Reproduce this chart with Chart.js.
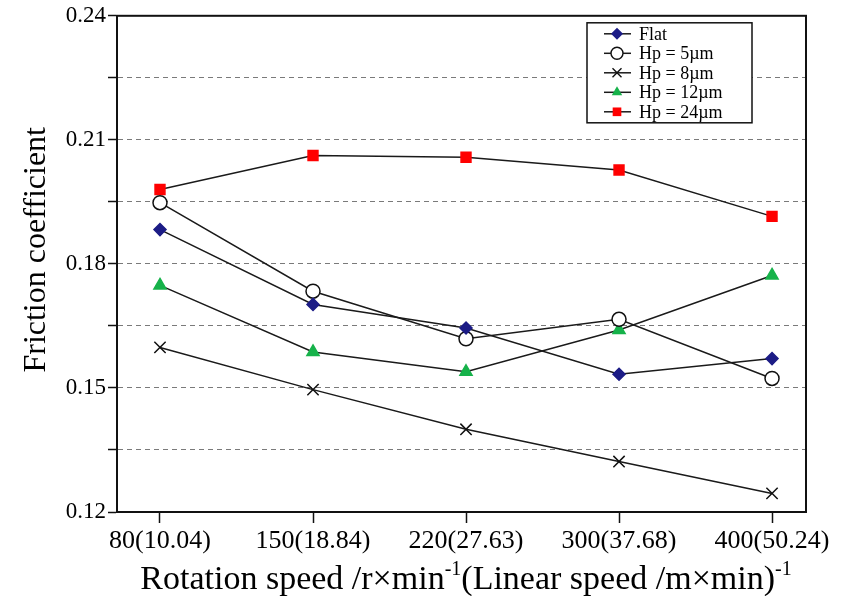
<!DOCTYPE html>
<html>
<head>
<meta charset="utf-8">
<script src="https://cdn.jsdelivr.net/npm/chart.js@4.4.1/dist/chart.umd.min.js"></script>
<style>
    html, body { margin: 0; padding: 0; background: #fff; }
    #wrap { width: 862px; height: 596px; position: relative; }
</style>
</head>
<body>
<div id="wrap"><canvas id="frictionChart"></canvas></div>
<script>
const categories = ['80(10.04)', '150(18.84)', '220(27.63)', '300(37.68)', '400(50.24)'];
const seriesNames = ['Flat', 'Hp = 5\u00b5m', 'Hp = 8\u00b5m', 'Hp = 12\u00b5m', 'Hp = 24\u00b5m'];
const flatValues = [0.1883, 0.1702, 0.1645, 0.1533, 0.1571];
const hp5Values = [0.1948, 0.1734, 0.1619, 0.1666, 0.1523];
const hp8Values = [0.1598, 0.1496, 0.1400, 0.1322, 0.1245];
const hp12Values = [0.1748, 0.1587, 0.1539, 0.1640, 0.1772];
const hp24Values = [0.1980, 0.2062, 0.2058, 0.2027, 0.1915];
const yTicks = [0.12, 0.135, 0.15, 0.165, 0.18, 0.195, 0.21, 0.225, 0.24];

const serif = "'Liberation Serif', 'Times New Roman', serif";

document.addEventListener('DOMContentLoaded', () => {
    const toPoints = (values) => values.map((v, i) => ({ x: i, y: v }));

    const makeSet = (label, values, style, fill, stroke, radius) => ({
        label: label,
        data: toPoints(values),
        borderColor: '#1a1a1a',
        borderWidth: 1.5,
        pointStyle: style,
        pointRadius: radius,
        pointBackgroundColor: fill,
        pointBorderColor: stroke,
        pointBorderWidth: 1.5,
        tension: 0
    });

    const datasets = [
        makeSet(seriesNames[0], flatValues, 'rectRot', '#1c1c86', '#1c1c86', 6),
        makeSet(seriesNames[1], hp5Values, 'circle', '#ffffff', '#111111', 7),
        makeSet(seriesNames[2], hp8Values, 'crossRot', '#111111', '#111111', 8),
        makeSet(seriesNames[3], hp12Values, 'triangle', '#16b24a', '#16b24a', 7),
        makeSet(seriesNames[4], hp24Values, 'rect', '#ff0000', '#ff0000', 7)
    ];

    // small marker painter for the legend box
    const drawMarker = (ctx, ds, x, y, r) => {
        ctx.save();
        ctx.fillStyle = ds.pointBackgroundColor;
        ctx.strokeStyle = ds.pointBorderColor;
        ctx.lineWidth = 1.4;
        ctx.beginPath();
        if (ds.pointStyle === 'rectRot') {
            ctx.moveTo(x, y - r); ctx.lineTo(x + r, y); ctx.lineTo(x, y + r); ctx.lineTo(x - r, y);
            ctx.closePath(); ctx.fill();
        } else if (ds.pointStyle === 'circle') {
            ctx.arc(x, y, r, 0, Math.PI * 2);
            ctx.fill(); ctx.stroke();
        } else if (ds.pointStyle === 'crossRot') {
            const d = r * 0.75;
            ctx.moveTo(x - d, y - d); ctx.lineTo(x + d, y + d);
            ctx.moveTo(x + d, y - d); ctx.lineTo(x - d, y + d);
            ctx.stroke();
        } else if (ds.pointStyle === 'triangle') {
            ctx.moveTo(x, y - r); ctx.lineTo(x + r * 0.87, y + r * 0.5); ctx.lineTo(x - r * 0.87, y + r * 0.5);
            ctx.closePath(); ctx.fill();
        } else {
            const h = r * 0.72;
            ctx.fillRect(x - h, y - h, h * 2, h * 2);
        }
        ctx.restore();
    };

    const framePlugin = {
        id: 'frame',
        beforeDatasetsDraw(chart) {
            const { ctx, chartArea: a } = chart;
            ctx.save();
            ctx.strokeStyle = '#111';
            ctx.lineWidth = 2;
            ctx.strokeRect(a.left, a.top, a.right - a.left, a.bottom - a.top);
            ctx.restore();
        }
    };

    const legendPlugin = {
        id: 'boxLegend',
        afterDraw(chart) {
            const { ctx, chartArea: a } = chart;
            const left = a.left + 470;
            const top = a.top + 7;
            const w = 165;
            const h = 100;
            ctx.save();
            ctx.fillStyle = '#fff';
            ctx.fillRect(left, top, w, h);
            ctx.strokeStyle = '#111';
            ctx.lineWidth = 1.5;
            ctx.strokeRect(left, top, w, h);
            chart.data.datasets.forEach((ds, i) => {
                const y = top + 11 + i * 19.5;
                ctx.strokeStyle = '#1a1a1a';
                ctx.lineWidth = 1.5;
                ctx.beginPath();
                ctx.moveTo(left + 17, y);
                ctx.lineTo(left + 44, y);
                ctx.stroke();
                drawMarker(ctx, ds, left + 30, y, 6);
                ctx.fillStyle = '#000';
                ctx.font = '18px ' + serif;
                ctx.textBaseline = 'middle';
                ctx.textAlign = 'left';
                ctx.fillText(ds.label, left + 52, y + 1);
            });
            ctx.restore();
        }
    };

    const titlesPlugin = {
        id: 'axisTitles',
        afterDraw(chart) {
            const { ctx, chartArea: a } = chart;
            ctx.save();
            ctx.fillStyle = '#000';

            // y title
            ctx.font = '32px ' + serif;
            ctx.textAlign = 'center';
            ctx.textBaseline = 'middle';
            ctx.translate(37, a.top + 234);
            ctx.rotate(-Math.PI / 2);
            ctx.fillText('Friction coefficient', 0, 0);
            ctx.setTransform(1, 0, 0, 1, 0, 0);

            // x title with superscripts
            const parts = [
                ['Rotation speed /r\u00d7min', false],
                ['-1', true],
                ['(Linear speed /m\u00d7min)', false],
                ['-1', true]
            ];
            const mainFont = '34px ' + serif;
            const supFont = '20px ' + serif;
            let total = 0;
            parts.forEach(([t, sup]) => {
                ctx.font = sup ? supFont : mainFont;
                total += ctx.measureText(t).width;
            });
            let x = 466 - total / 2;
            const base = 589;
            ctx.textAlign = 'left';
            ctx.textBaseline = 'alphabetic';
            parts.forEach(([t, sup]) => {
                ctx.font = sup ? supFont : mainFont;
                ctx.fillText(t, x, sup ? base - 14 : base);
                x += ctx.measureText(t).width;
            });
            ctx.restore();
        }
    };

    const ctx = document.getElementById('frictionChart').getContext('2d');
    new Chart(ctx, {
        type: 'line',
        data: { datasets: datasets },
        options: {
            responsive: true,
            maintainAspectRatio: false,
            animation: false,
            layout: { padding: { top: 15, right: 56, left: 0, bottom: 0 } },
            plugins: {
                legend: { display: false },
                tooltip: { enabled: false }
            },
            scales: {
                x: {
                    type: 'linear',
                    min: -0.281,
                    max: 4.222,
                    afterBuildTicks: (scale) => {
                        scale.ticks = categories.map((c, i) => ({ value: i }));
                    },
                    afterFit: (scale) => { scale.height = 84; },
                    grid: {
                        drawOnChartArea: false,
                        tickLength: 11,
                        tickColor: '#111',
                        tickWidth: 1.5
                    },
                    border: { color: '#111', width: 2 },
                    ticks: {
                        autoSkip: false,
                        maxRotation: 0,
                        padding: 3,
                        color: '#000',
                        font: { family: serif, size: 26 },
                        callback: (value) => categories[value] ?? ''
                    }
                },
                y: {
                    min: 0.12,
                    max: 0.24,
                    afterBuildTicks: (scale) => {
                        scale.ticks = yTicks.map((v) => ({ value: v }));
                    },
                    afterFit: (scale) => { scale.width = 117; },
                    grid: {
                        color: (c) => (c.index === 0 || c.index === yTicks.length - 1) ? 'rgba(0,0,0,0)' : '#7a7a7a',
                        lineWidth: 1,
                        tickLength: 9,
                        tickColor: '#111',
                        tickWidth: 1.5,
                        tickBorderDash: []
                    },
                    border: { color: '#111', width: 2, dash: [5, 4] },
                    ticks: {
                        padding: 2,
                        color: '#000',
                        font: { family: serif, size: 23 },
                        callback: (value, index) => index % 2 === 0 ? value.toFixed(2) : ''
                    }
                }
            }
        },
        plugins: [framePlugin, legendPlugin, titlesPlugin]
    });
});
</script>
</body>
</html>
